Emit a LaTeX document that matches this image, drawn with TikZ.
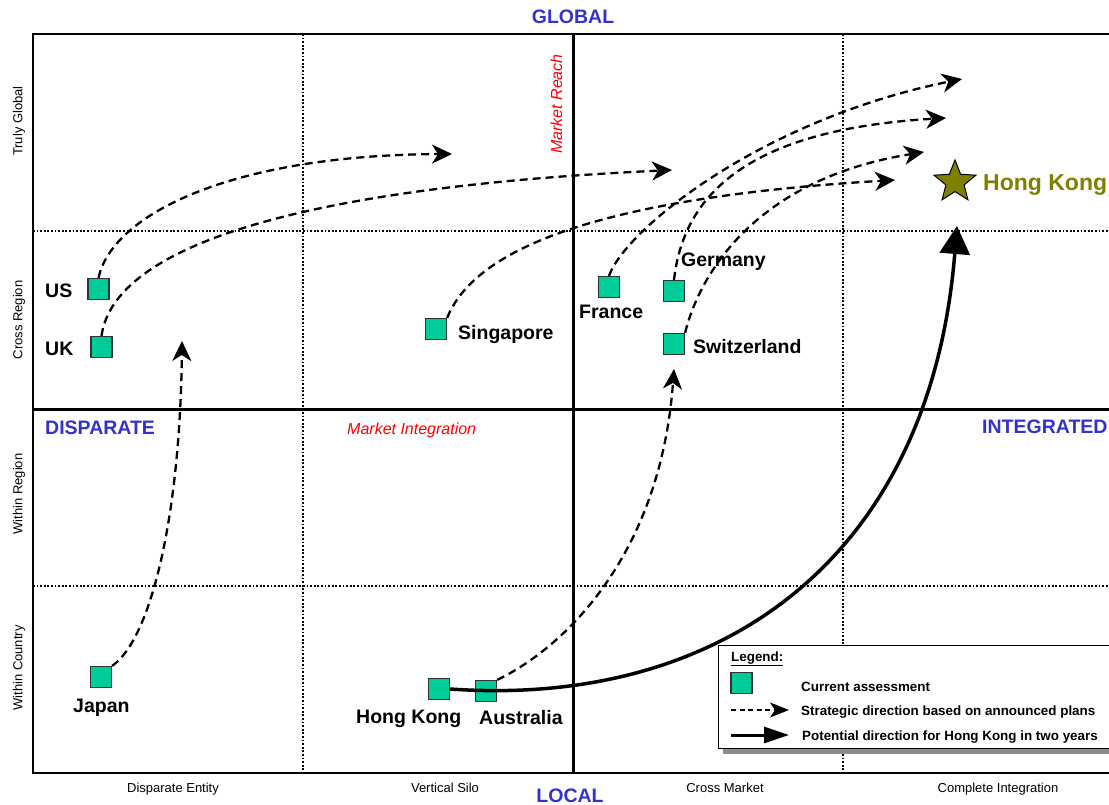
\documentclass[tikz,border=0pt]{standalone}
\usepackage{fontspec}
\setmainfont{Liberation Sans}
\usetikzlibrary{arrows.meta,shapes.geometric}
\definecolor{sqgreen}{HTML}{00CC99}
\definecolor{poleblue}{HTML}{3333CC}
\definecolor{hkolive}{HTML}{808000}
\definecolor{notered}{HTML}{FF0000}
\definecolor{shadowgray}{HTML}{8C8C8C}

\begin{document}
\begin{tikzpicture}[x=1pt,y=-1pt,
  country/.style={rectangle, draw=black!80, line width=1.2pt, fill=sqgreen,
    minimum size=21pt, inner sep=0pt},
  cname/.style={font=\fontsize{19.5}{20}\selectfont\bfseries, inner sep=0pt, anchor=base west},
  pole/.style={font=\fontsize{19.5}{20}\selectfont\bfseries, text=poleblue, inner sep=0pt},
  scalelabel/.style={font=\fontsize{13}{14}\selectfont, inner sep=0pt},
  note/.style={font=\fontsize{16}{17}\selectfont\itshape, text=notered, inner sep=0pt},
  legtext/.style={font=\fontsize{13.4}{14}\selectfont\bfseries, inner sep=0pt, anchor=base west},
  plan/.style={dash pattern=on 8pt off 5pt, line width=2.3pt,
    -{Stealth[length=20pt,width=19pt,inset=6pt]}},
  potential/.style={line width=3.5pt, -{Triangle[length=28pt,width=30pt]}},
  griddots/.style={line width=1.8pt, dash pattern=on 1.8pt off 1.8pt},
  axisline/.style={line width=3pt},
]
\useasboundingbox (0,0) rectangle (1109,805);
\fill[white] (0,0) rectangle (1109,805);

% grid of the matrix
\draw[griddots] (303,34) -- (303,773);
\draw[griddots] (843,34) -- (843,773);
\draw[griddots] (33,231) -- (1109,231);
\draw[griddots] (33,586) -- (1109,586);
\draw[axisline] (573,34) -- (573,773);
\draw[axisline] (33,409) -- (1109,409);
\draw[line width=1.5pt] (1109,34) -- (33,34) -- (33,773) -- (1109,773);

% axis titles
\node[pole, anchor=base] (global) at (573,24) {GLOBAL};
\node[pole, anchor=base] (local) at (570,802) {LOCAL};
\node[pole, anchor=base west] (disparate) at (45,434) {DISPARATE};
\node[pole, anchor=base west] (integrated) at (982,433) {INTEGRATED};
\node[note, anchor=base west] (mktint) at (347,434) {Market Integration};
\node[note, rotate=90, anchor=base west] (mktreach) at (562,154) {Market Reach};

% scale labels
\node[scalelabel, anchor=base] (s1) at (173,792) {Disparate Entity};
\node[scalelabel, anchor=base] (s2) at (445,792) {Vertical Silo};
\node[scalelabel, anchor=base] (s3) at (725,792) {Cross Market};
\node[scalelabel, anchor=base] (s4) at (998,792) {Complete Integration};
\node[scalelabel, rotate=90] (r1) at (19,121) {Truly Global};
\node[scalelabel, rotate=90] (r2) at (19,320) {Cross Region};
\node[scalelabel, rotate=90] (r3) at (19,494) {Within Region};
\node[scalelabel, rotate=90] (r4) at (19,668) {Within Country};

% current assessments
\node[country] (us) at (98.5,289) {};
\node[country] (uk) at (101.5,347) {};
\node[country] (sg) at (436,329) {};
\node[country] (fr) at (609,287) {};
\node[country] (de) at (674,291) {};
\node[country] (ch) at (674,344) {};
\node[country] (jp) at (101,677) {};
\node[country] (hk) at (439,689) {};
\node[country] (au) at (486,691) {};

\node[cname] (usl) at (45,298) {US};
\node[cname] (ukl) at (45,355) {UK};
\node[cname] (sgl) at (458,339) {Singapore};
\node[cname] (frl) at (579,318) {France};
\node[cname] (del) at (681,266) {Germany};
\node[cname] (chl) at (693,353) {Switzerland};
\node[cname] (jpl) at (73,712) {Japan};
\node[cname] (hkl) at (356,723) {Hong Kong};
\node[cname] (aul) at (479,724) {Australia};

% target position for Hong Kong
\node[star, star points=5, star point ratio=2.3, minimum size=44pt, inner sep=0pt,
  draw=black, line width=1pt, fill=hkolive] (hkstar) at (955,182) {};
\node[cname, text=hkolive, font=\fontsize{23}{24}\selectfont\bfseries] (hkgoal) at (983,190.5) {Hong Kong};

% end points of the strategic directions
\coordinate (usT) at (452,154);
\coordinate (ukT) at (672,170);
\coordinate (sgT) at (895,180);
\coordinate (frT) at (962,79);
\coordinate (deT) at (946,118);
\coordinate (chT) at (924,152);
\coordinate (jpT) at (182,341);
\coordinate (auT) at (674,369);
\coordinate (hkT) at (957,226);

\draw[plan] (us.north) .. controls (112,215) and (230,155) .. (usT);
\draw[plan] (uk.north) .. controls (112,260) and (250,190) .. (ukT);
\draw[plan] (sg.north east) .. controls (470,262) and (560,200) .. (sgT);
\draw[plan] (fr.north) .. controls (625,230) and (760,120) .. (frT);
\draw[plan] (de.north) .. controls (683,200) and (740,130) .. (deT);
\draw[plan] (ch.north east) .. controls (698,280) and (750,180) .. (chT);
\draw[plan] (jp.north east) .. controls (150,640) and (180,520) .. (jpT);
\draw[plan] (au.north east) .. controls (560,650) and (660,560) .. (auT);
\draw[potential] (hk.east) .. controls (720,708) and (930,560) .. (hkT);

% legend
\fill[shadowgray] (723,651) rectangle (1115,754);
\node[draw=black, line width=1pt, fill=white, anchor=north west, minimum width=397pt,
  minimum height=103pt, inner sep=0pt] (legend) at (718,645) {};
\node[legtext] (legtitle) at (731,661) {\underline{Legend:}};
\node[country] (legsq) at (741.5,683) {};
\node[legtext] (leg1) at (801,691) {Current assessment};
\coordinate (ldA) at (731,710);
\coordinate (ldB) at (789,710);
\draw[dash pattern=on 5pt off 3.5pt, line width=1.4pt,
  -{Stealth[length=19pt,width=15pt,inset=5pt]}] (ldA) -- (ldB);
\node[legtext] (leg2) at (801,715) {Strategic direction based on announced plans};
\coordinate (lsA) at (731,735);
\coordinate (lsB) at (789,735);
\draw[line width=3pt, -{Triangle[length=25pt,width=16pt]}] (lsA) -- (lsB);
\node[legtext] (leg3) at (802,740) {Potential direction for Hong Kong in two years};
\end{tikzpicture}
\end{document}
